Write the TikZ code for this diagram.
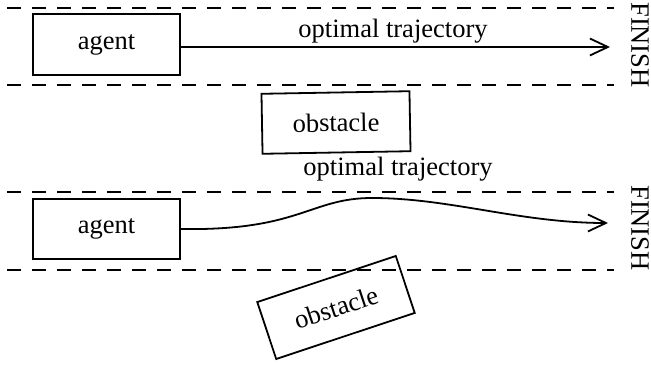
\documentclass[tikz,border=0pt]{standalone}
\usepackage{fontspec}
\setmainfont{Liberation Serif}
\usetikzlibrary{arrows.meta}
\begin{document}
\begin{tikzpicture}[x=1pt,y=-1pt,
  every node/.style={font=\fontsize{26.5}{30}\selectfont},
  box/.style={draw,line width=1.8pt,inner sep=0pt},
  lane/.style={line width=1.6pt,dash pattern=on 14pt off 11pt},
  traj/.style={line width=1.8pt,-{Straight Barb[length=18pt,width=17pt,line width=1.8pt]}}]
\useasboundingbox (0,0) rectangle (651,367);
% lanes
\coordinate (l1a) at (7,8);   \coordinate (l1b) at (614,8);
\coordinate (l2a) at (7,85);  \coordinate (l2b) at (614,85);
\coordinate (l3a) at (7,192); \coordinate (l3b) at (614,192);
\coordinate (l4a) at (7,270); \coordinate (l4b) at (614,270);
\draw[lane] (l1a) -- (l1b);
\draw[lane] (l2a) -- (l2b);
\draw[lane] (l3a) -- (l3b);
\draw[lane] (l4a) -- (l4b);
% top scenario
\node[box,minimum width=147pt,minimum height=61pt] (agentA) at (106.5,44.5) {agent};
\node[box,minimum width=148pt,minimum height=60pt,rotate=1] (obstA) at (336,122.5) {obstacle};
\node[rotate=-90,inner sep=0pt] (finA) at (640,45) {FINISH};
\coordinate (endA) at (610,47);
\draw[traj] (agentA.east |- endA) -- (endA);
\node[anchor=base,inner sep=0pt] (labA) at (393,37) {optimal trajectory};
% bottom scenario
\node[box,minimum width=147pt,minimum height=60pt] (agentB) at (106.5,229) {agent};
\node[box,minimum width=146pt,minimum height=60pt,rotate=18.4] (obstB) at (336,307.5) {obstacle};
\node[rotate=-90,inner sep=0pt] (finB) at (640,228) {FINISH};
\coordinate (peakB) at (372,198);
\coordinate (endB) at (608,223);
\draw[traj] (agentB.east) .. controls (300,231) and (310,198) .. (peakB)
  .. controls (450,198) and (520,223) .. (endB);
\node[anchor=base,inner sep=0pt] (labB) at (398,175) {optimal trajectory};
\end{tikzpicture}
\end{document}
